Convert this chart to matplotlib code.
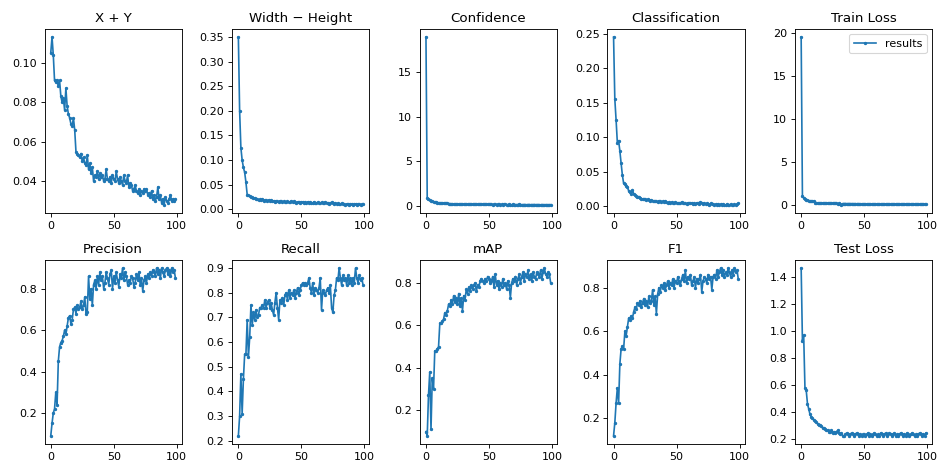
#!/usr/bin/env python

import matplotlib
matplotlib.use('Agg')
import matplotlib.pyplot as plt


# ==================================================================
epochs = list(range(100))

titles = ['X + Y', 'Width \u2212 Height', 'Confidence', 'Classification', 'Train Loss',
          'Precision', 'Recall', 'mAP', 'F1', 'Test Loss']

xy = [0.105, 0.113, 0.104, 0.091, 0.090, 0.091, 0.088, 0.091, 0.083, 0.080,
      0.082, 0.076, 0.087, 0.078, 0.074, 0.072, 0.069, 0.068, 0.072, 0.066,
      0.055, 0.054, 0.053, 0.052, 0.054, 0.050, 0.052, 0.049, 0.048, 0.053,
      0.046, 0.049, 0.044, 0.047, 0.040, 0.043, 0.042, 0.045, 0.041, 0.044,
      0.042, 0.043, 0.040, 0.041, 0.046, 0.041, 0.040, 0.042, 0.039, 0.043,
      0.041, 0.040, 0.045, 0.041, 0.039, 0.042, 0.040, 0.038, 0.043, 0.040,
      0.039, 0.043, 0.037, 0.039, 0.038, 0.035, 0.036, 0.038, 0.035, 0.034,
      0.036, 0.033, 0.035, 0.034, 0.036, 0.035, 0.036, 0.033, 0.034, 0.032,
      0.035, 0.031, 0.033, 0.030, 0.032, 0.037, 0.031, 0.033, 0.029, 0.031,
      0.028, 0.032, 0.030, 0.029, 0.031, 0.033, 0.030, 0.031, 0.030, 0.031]

wh = [0.350, 0.200, 0.125, 0.100, 0.085, 0.075, 0.055, 0.030, 0.028, 0.027,
      0.025, 0.024, 0.022, 0.023, 0.020, 0.021, 0.019, 0.020, 0.018, 0.021,
      0.017, 0.019, 0.018, 0.016, 0.019, 0.017, 0.018, 0.016, 0.017, 0.015,
      0.017, 0.016, 0.015, 0.017, 0.016, 0.014, 0.016, 0.015, 0.014, 0.016,
      0.015, 0.014, 0.017, 0.015, 0.016, 0.014, 0.013, 0.015, 0.014, 0.013,
      0.015, 0.014, 0.013, 0.014, 0.012, 0.015, 0.013, 0.014, 0.012, 0.013,
      0.015, 0.013, 0.012, 0.014, 0.013, 0.012, 0.014, 0.012, 0.013, 0.015,
      0.012, 0.013, 0.011, 0.012, 0.014, 0.012, 0.011, 0.013, 0.011, 0.012,
      0.011, 0.010, 0.012, 0.010, 0.011, 0.009, 0.011, 0.010, 0.009, 0.011,
      0.010, 0.009, 0.010, 0.011, 0.009, 0.010, 0.011, 0.009, 0.010, 0.011]

conf = [18.9, 0.90, 0.80, 0.70, 0.60, 0.55, 0.50, 0.45, 0.42, 0.40,
        0.38, 0.36, 0.35, 0.33, 0.32, 0.30, 0.30, 0.29, 0.28, 0.27,
        0.25, 0.26, 0.24, 0.25, 0.23, 0.24, 0.22, 0.23, 0.22, 0.21,
        0.22, 0.20, 0.21, 0.20, 0.19, 0.21, 0.20, 0.19, 0.20, 0.18,
        0.19, 0.20, 0.18, 0.19, 0.20, 0.18, 0.19, 0.18, 0.20, 0.19,
        0.18, 0.19, 0.18, 0.17, 0.19, 0.18, 0.17, 0.19, 0.18, 0.17,
        0.18, 0.17, 0.19, 0.18, 0.17, 0.16, 0.18, 0.17, 0.16, 0.18,
        0.17, 0.16, 0.17, 0.16, 0.18, 0.17, 0.16, 0.15, 0.17, 0.16,
        0.15, 0.16, 0.17, 0.15, 0.16, 0.15, 0.17, 0.16, 0.15, 0.16,
        0.15, 0.14, 0.16, 0.15, 0.14, 0.16, 0.15, 0.14, 0.15, 0.16]

cls = [0.245, 0.155, 0.125, 0.092, 0.095, 0.080, 0.062, 0.045, 0.033, 0.032,
       0.030, 0.028, 0.022, 0.020, 0.018, 0.024, 0.017, 0.016, 0.015, 0.013,
       0.014, 0.012, 0.011, 0.010, 0.011, 0.010, 0.009, 0.010, 0.009, 0.008,
       0.009, 0.008, 0.007, 0.008, 0.007, 0.006, 0.008, 0.007, 0.006, 0.007,
       0.006, 0.007, 0.006, 0.005, 0.006, 0.005, 0.006, 0.005, 0.004, 0.006,
       0.005, 0.004, 0.005, 0.004, 0.006, 0.004, 0.005, 0.004, 0.003, 0.005,
       0.004, 0.005, 0.004, 0.003, 0.004, 0.003, 0.005, 0.004, 0.003, 0.006,
       0.004, 0.003, 0.004, 0.003, 0.004, 0.003, 0.002, 0.004, 0.003, 0.003,
       0.002, 0.003, 0.002, 0.003, 0.002, 0.003, 0.002, 0.003, 0.002, 0.002,
       0.003, 0.002, 0.002, 0.003, 0.002, 0.002, 0.003, 0.002, 0.003, 0.004]

train_loss = [19.5, 1.10, 0.90, 0.75, 0.65, 0.60, 0.55, 0.50, 0.50, 0.48,
              0.45, 0.30, 0.30, 0.28, 0.27, 0.27, 0.26, 0.25, 0.25, 0.24,
              0.24, 0.23, 0.23, 0.22, 0.23, 0.22, 0.21, 0.22, 0.21, 0.20,
              0.21, 0.20, 0.05, 0.20, 0.19, 0.20, 0.19, 0.18, 0.19, 0.18,
              0.19, 0.18, 0.17, 0.18, 0.17, 0.18, 0.17, 0.16, 0.17, 0.16,
              0.17, 0.16, 0.15, 0.16, 0.15, 0.16, 0.15, 0.14, 0.15, 0.14,
              0.15, 0.14, 0.15, 0.14, 0.13, 0.14, 0.13, 0.14, 0.13, 0.14,
              0.13, 0.14, 0.13, 0.12, 0.13, 0.12, 0.13, 0.12, 0.13, 0.12,
              0.13, 0.12, 0.11, 0.12, 0.11, 0.12, 0.11, 0.12, 0.11, 0.12,
              0.11, 0.12, 0.11, 0.10, 0.11, 0.12, 0.11, 0.10, 0.11, 0.12]

precision = [0.09, 0.15, 0.20, 0.22, 0.30, 0.24, 0.45, 0.52, 0.54, 0.55,
             0.57, 0.60, 0.58, 0.62, 0.66, 0.67, 0.63, 0.65, 0.70, 0.71,
             0.68, 0.72, 0.70, 0.71, 0.74, 0.70, 0.72, 0.76, 0.68, 0.69,
             0.86, 0.75, 0.80, 0.72, 0.82, 0.84, 0.80, 0.86, 0.82, 0.88,
             0.84, 0.86, 0.80, 0.83, 0.88, 0.85, 0.82, 0.87, 0.89, 0.80,
             0.86, 0.83, 0.88, 0.84, 0.81, 0.87, 0.85, 0.90, 0.84, 0.88,
             0.86, 0.82, 0.84, 0.83, 0.86, 0.85, 0.81, 0.83, 0.87, 0.84,
             0.88, 0.82, 0.85, 0.79, 0.84, 0.86, 0.83, 0.87, 0.85, 0.88,
             0.86, 0.89, 0.88, 0.86, 0.90, 0.87, 0.89, 0.85, 0.90, 0.88,
             0.86, 0.89, 0.90, 0.87, 0.89, 0.86, 0.90, 0.88, 0.89, 0.85]

recall = [0.22, 0.30, 0.47, 0.31, 0.45, 0.55, 0.55, 0.69, 0.54, 0.62,
          0.75, 0.67, 0.72, 0.69, 0.73, 0.70, 0.71, 0.74, 0.74, 0.75,
          0.74, 0.77, 0.74, 0.76, 0.77, 0.74, 0.76, 0.73, 0.71, 0.76,
          0.80, 0.74, 0.69, 0.77, 0.76, 0.78, 0.75, 0.79, 0.80, 0.77,
          0.81, 0.78, 0.80, 0.79, 0.81, 0.78, 0.80, 0.82, 0.79, 0.81,
          0.83, 0.84, 0.83, 0.84, 0.83, 0.84, 0.86, 0.82, 0.80, 0.84,
          0.79, 0.82, 0.81, 0.80, 0.82, 0.86, 0.73, 0.81, 0.80, 0.79,
          0.81, 0.82, 0.80, 0.83, 0.74, 0.72, 0.79, 0.81, 0.86, 0.85,
          0.90, 0.86, 0.83, 0.87, 0.85, 0.86, 0.83, 0.87, 0.84, 0.86,
          0.83, 0.86, 0.84, 0.90, 0.86, 0.84, 0.87, 0.85, 0.86, 0.83]

map_ = [0.10, 0.08, 0.27, 0.38, 0.11, 0.35, 0.30, 0.48, 0.48, 0.49,
        0.50, 0.61, 0.61, 0.62, 0.63, 0.66, 0.65, 0.67, 0.70, 0.69,
        0.72, 0.70, 0.74, 0.71, 0.73, 0.70, 0.75, 0.69, 0.73, 0.67,
        0.74, 0.72, 0.77, 0.75, 0.78, 0.76, 0.79, 0.77, 0.79, 0.80,
        0.76, 0.79, 0.78, 0.81, 0.82, 0.81, 0.80, 0.82, 0.81, 0.83,
        0.82, 0.80, 0.81, 0.83, 0.78, 0.84, 0.79, 0.81, 0.77, 0.80,
        0.78, 0.82, 0.79, 0.80, 0.77, 0.81, 0.79, 0.73, 0.80, 0.82,
        0.81, 0.83, 0.79, 0.82, 0.84, 0.80, 0.83, 0.85, 0.81, 0.84,
        0.83, 0.86, 0.82, 0.84, 0.81, 0.85, 0.83, 0.82, 0.85, 0.84,
        0.83, 0.86, 0.82, 0.85, 0.87, 0.84, 0.83, 0.85, 0.84, 0.80]

f1 = [0.12, 0.18, 0.27, 0.34, 0.27, 0.45, 0.52, 0.53, 0.52, 0.60,
      0.58, 0.62, 0.66, 0.65, 0.67, 0.66, 0.69, 0.71, 0.70, 0.73,
      0.72, 0.74, 0.71, 0.73, 0.75, 0.72, 0.74, 0.71, 0.76, 0.73,
      0.74, 0.79, 0.72, 0.76, 0.68, 0.77, 0.80, 0.78, 0.81, 0.80,
      0.82, 0.79, 0.81, 0.83, 0.80, 0.82, 0.81, 0.84, 0.80, 0.83,
      0.82, 0.85, 0.83, 0.81, 0.84, 0.86, 0.83, 0.88, 0.82, 0.85,
      0.84, 0.86, 0.81, 0.83, 0.85, 0.80, 0.84, 0.82, 0.84, 0.86,
      0.78, 0.83, 0.85, 0.84, 0.82, 0.86, 0.84, 0.85, 0.79, 0.85,
      0.86, 0.84, 0.88, 0.85, 0.87, 0.89, 0.86, 0.88, 0.85, 0.87,
      0.86, 0.89, 0.87, 0.85, 0.88, 0.86, 0.89, 0.87, 0.88, 0.84]

test_loss = [1.47, 0.93, 0.97, 0.58, 0.56, 0.46, 0.42, 0.38, 0.36, 0.35,
             0.34, 0.33, 0.32, 0.31, 0.30, 0.30, 0.29, 0.28, 0.28, 0.27,
             0.26, 0.26, 0.25, 0.25, 0.26, 0.24, 0.25, 0.24, 0.25, 0.26,
             0.24, 0.23, 0.24, 0.22, 0.22, 0.23, 0.24, 0.23, 0.22, 0.23,
             0.24, 0.23, 0.22, 0.23, 0.24, 0.23, 0.22, 0.23, 0.22, 0.23,
             0.23, 0.22, 0.23, 0.24, 0.22, 0.23, 0.22, 0.23, 0.24, 0.23,
             0.22, 0.23, 0.22, 0.24, 0.23, 0.22, 0.23, 0.24, 0.22, 0.23,
             0.24, 0.23, 0.22, 0.23, 0.24, 0.22, 0.23, 0.22, 0.23, 0.24,
             0.23, 0.22, 0.23, 0.22, 0.24, 0.23, 0.22, 0.23, 0.24, 0.23,
             0.22, 0.23, 0.22, 0.23, 0.24, 0.23, 0.22, 0.23, 0.22, 0.24]


# ==================================================================
def plot_results(series, name='out.png'):
    """ Dibuja las 10 graficas de resultados en una rejilla de 2x5 """
    dpi = 80
    fig, ax = plt.subplots(2, 5, figsize=(950 / dpi, 474 / dpi), dpi=dpi)
    ax = ax.ravel()
    for i, y in enumerate(series):
        ax[i].plot(epochs, y, marker='.', markersize=4, label='results')
        ax[i].set_title(titles[i])
    fig.tight_layout()
    ax[4].legend()
    fig.savefig(name, dpi=dpi)


# ==================================================================
if __name__ == '__main__':
    plot_results([xy, wh, conf, cls, train_loss,
                  precision, recall, map_, f1, test_loss])
